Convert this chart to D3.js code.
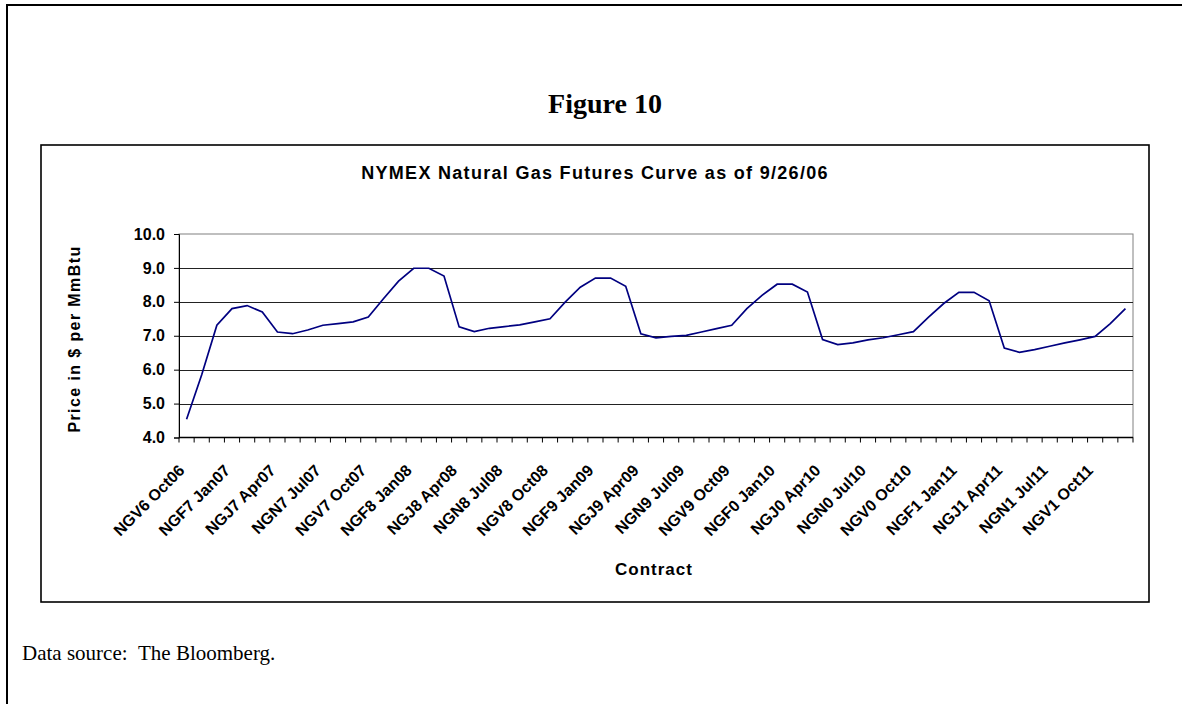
<!DOCTYPE html>
<html>
<head>
<meta charset="utf-8">
<script src="https://cdn.jsdelivr.net/npm/d3@7"></script>
<style>
  body { margin: 0; background: #fff; }
  svg { display: block; }
</style>
</head>
<body>
<div id="chart"></div>
<script>
// contract months, Oct06 .. Dec11
const monthCodes = ["F","G","H","J","K","M","N","Q","U","V","X","Z"];
const monthNames = ["Jan","Feb","Mar","Apr","May","Jun","Jul","Aug","Sep","Oct","Nov","Dec"];

// settlement prices ($/MmBtu)
const prices = [
  4.54, 5.85, 7.31, 7.80, 7.89, 7.70, 7.11, 7.06, 7.17, 7.31, 7.36, 7.41,
  7.55, 8.09, 8.61, 8.99, 8.99, 8.76, 7.26, 7.12, 7.22, 7.27, 7.32, 7.41,
  7.50, 7.99, 8.43, 8.70, 8.70, 8.46, 7.06, 6.94, 6.98, 7.01, 7.11, 7.21,
  7.31, 7.80, 8.19, 8.52, 8.52, 8.29, 6.89, 6.74, 6.79, 6.88, 6.94, 7.03,
  7.12, 7.55, 7.95, 8.28, 8.28, 8.03, 6.64, 6.51, 6.59, 6.69, 6.79, 6.88,
  6.98, 7.36, 7.80
];

const yTicks = [4, 5, 6, 7, 8, 9, 10];

// build contract names like "NGV6 Oct06"
const contracts = prices.map((p, i) => {
  const m = (9 + i) % 12;
  const yr = 6 + Math.floor((9 + i) / 12);
  return "NG" + monthCodes[m] + (yr % 10) + " " + monthNames[m] + String(yr).padStart(2, "0");
});
const data = contracts.map((c, i) => ({ contract: c, price: prices[i] }));

const width = 1182, height = 704;
const plot = { left: 179, right: 1133, top: 234, bottom: 437.5 };
const sans = "'Liberation Sans', Arial, sans-serif";

const svg = d3.select("#chart").append("svg")
  .attr("width", width)
  .attr("height", height);

// page frame (top + left edges visible)
svg.append("line").attr("x1", 6).attr("x2", width).attr("y1", 5).attr("y2", 5)
  .attr("stroke", "#000").attr("stroke-width", 2);
svg.append("line").attr("x1", 7).attr("x2", 7).attr("y1", 4).attr("y2", height)
  .attr("stroke", "#000").attr("stroke-width", 2);

svg.append("text")
  .attr("x", 605).attr("y", 113)
  .attr("text-anchor", "middle")
  .style("font-family", "'Liberation Serif', 'Times New Roman', serif")
  .style("font-weight", "bold")
  .style("font-size", "28px")
  .text("Figure 10");

// chart box
svg.append("rect")
  .attr("x", 41).attr("y", 145)
  .attr("width", 1108).attr("height", 457)
  .attr("fill", "#fff")
  .attr("stroke", "#000").attr("stroke-width", 1.6);

svg.append("text")
  .attr("x", 595).attr("y", 179)
  .attr("text-anchor", "middle")
  .style("font-family", sans)
  .style("font-weight", "bold")
  .style("font-size", "18px")
  .style("letter-spacing", "1.3px")
  .text("NYMEX Natural Gas Futures Curve as of 9/26/06");

const x = d3.scaleBand()
  .domain(contracts)
  .range([plot.left, plot.right]);

const y = d3.scaleLinear()
  .domain([4, 10])
  .range([plot.bottom, plot.top]);

// plot border (grey top/right)
svg.append("rect")
  .attr("x", plot.left).attr("y", plot.top)
  .attr("width", plot.right - plot.left).attr("height", plot.bottom - plot.top)
  .attr("fill", "none").attr("stroke", "#808080").attr("stroke-width", 1);

// gridlines
svg.append("g").selectAll("line")
  .data(yTicks.filter(t => t > 4 && t < 10))
  .join("line")
  .attr("x1", plot.left).attr("x2", plot.right)
  .attr("y1", d => Math.round(y(d)) + 0.5).attr("y2", d => Math.round(y(d)) + 0.5)
  .attr("stroke", "#222").attr("stroke-width", 1);

// y axis
const yAxis = svg.append("g")
  .attr("transform", `translate(${plot.left},0)`)
  .call(d3.axisLeft(y).tickValues(yTicks).tickFormat(d3.format(".1f")).tickSize(5).tickPadding(9));
yAxis.select(".domain").attr("stroke", "#000");
yAxis.selectAll("text")
  .style("font-family", sans)
  .style("font-weight", "bold")
  .style("font-size", "16px")
  .attr("fill", "#000");

// x axis: ticks at category boundaries
const xa = svg.append("g").attr("transform", `translate(0,${plot.bottom})`);
xa.append("line")
  .attr("x1", plot.left).attr("x2", plot.right)
  .attr("y1", 0).attr("y2", 0)
  .attr("stroke", "#000").attr("stroke-width", 1.5);
xa.selectAll("line.tick")
  .data(d3.range(contracts.length + 1))
  .join("line")
  .attr("class", "tick")
  .attr("x1", i => plot.left + i * x.step()).attr("x2", i => plot.left + i * x.step())
  .attr("y1", 0).attr("y2", 5)
  .attr("stroke", "#000").attr("stroke-width", 1);

xa.selectAll("text")
  .data(contracts.filter((c, i) => i % 3 === 0))
  .join("text")
  .attr("transform", d => `translate(${x(d) + x.bandwidth() / 2 - 1},34) rotate(-45)`)
  .attr("text-anchor", "end")
  .style("font-family", sans)
  .style("font-weight", "bold")
  .style("font-size", "16px")
  .text(d => d);

svg.append("text")
  .attr("transform", "translate(80,339) rotate(-90)")
  .attr("text-anchor", "middle")
  .style("font-family", sans)
  .style("font-weight", "bold")
  .style("font-size", "16px")
  .style("letter-spacing", "1.4px")
  .text("Price in $ per MmBtu");

svg.append("text")
  .attr("x", 654).attr("y", 575)
  .attr("text-anchor", "middle")
  .style("font-family", sans)
  .style("font-weight", "bold")
  .style("font-size", "17px")
  .style("letter-spacing", "1px")
  .text("Contract");

// the curve
const line = d3.line()
  .x(d => x(d.contract) + x.bandwidth() / 2)
  .y(d => y(d.price));

svg.append("path")
  .datum(data)
  .attr("d", line)
  .attr("fill", "none")
  .attr("stroke", "#000080")
  .attr("stroke-width", 1.7);

svg.append("text")
  .attr("x", 22).attr("y", 660)
  .style("font-family", "'Liberation Serif', 'Times New Roman', serif")
  .style("font-size", "21px")
  .text("Data source:\u00a0\u00a0The Bloomberg.");
</script>
</body>
</html>
